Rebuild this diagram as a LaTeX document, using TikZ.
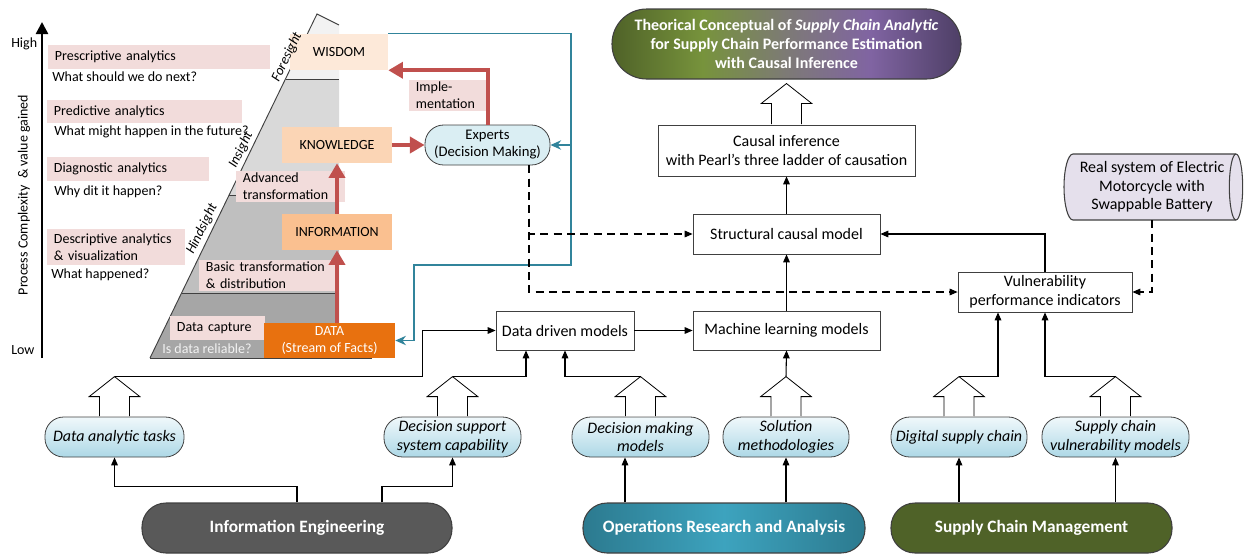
\documentclass[tikz,border=0pt]{standalone}
\usepackage{fontspec}
\setmainfont{Carlito}
\usepackage{tikz}
\usetikzlibrary{arrows.meta,calc,positioning}

\definecolor{pinkbg}{HTML}{F2DCDB}
\definecolor{wisdomfill}{HTML}{FDE9D9}
\definecolor{knowfill}{HTML}{FBD5B5}
\definecolor{infofill}{HTML}{FAC090}
\definecolor{datafill}{HTML}{E8710F}
\definecolor{redarr}{HTML}{C0504D}
\definecolor{tealarr}{HTML}{31849B}
\definecolor{expfill}{HTML}{DAEEF3}
\definecolor{band1}{HTML}{F2F2F2}
\definecolor{band2}{HTML}{D9D9D9}
\definecolor{band3}{HTML}{BFBFBF}
\definecolor{band4}{HTML}{A6A6A6}
\definecolor{iefill}{HTML}{595959}
\definecolor{oradark}{HTML}{2C7A8F}
\definecolor{oralight}{HTML}{3DA3BE}
\definecolor{scmfill}{HTML}{4F6228}
\definecolor{realfill}{HTML}{E5E0EC}
\definecolor{tgreen}{HTML}{4F6228}
\definecolor{tgreenl}{HTML}{77933C}
\definecolor{tgray}{HTML}{7D7A76}
\definecolor{tpurple}{HTML}{8064A2}
\definecolor{tpurpled}{HTML}{4E3F66}
\definecolor{italtop}{HTML}{F0F8FB}
\definecolor{italbot}{HTML}{ADD8E6}
\definecolor{edge}{HTML}{404040}

\pgfdeclarehorizontalshading{titleshade}{100bp}{color(0bp)=(tgreen); color(25bp)=(tgreen);
  color(38bp)=(tgreenl); color(50bp)=(tgray); color(62bp)=(tpurple); color(75bp)=(tpurpled);
  color(100bp)=(tpurpled)}

\newcommand{\pyrfont}{\fontsize{10.5}{12.75}\selectfont}
\newcommand{\expfont}{\fontsize{11}{12.75}\selectfont}
\newcommand{\boxfont}{\fontsize{12}{14}\selectfont}
\newcommand{\titlefont}{\fontsize{12}{14}\selectfont\bfseries}
\newcommand{\pillfont}{\fontsize{13}{15}\selectfont\bfseries}

% hollow block arrow from #1 (base) up to #2 (tip)
\newcommand{\blockarrow}[2]{%
  \draw[hollow] let \p1=(#1), \p2=(#2) in
    (\x1-11.25pt,\y1+0.4pt) -- (\x1-11.25pt,\y2-15pt) -- (\x1-19pt,\y2-15pt) -- (\x1,\y2)
    -- (\x1+19pt,\y2-15pt) -- (\x1+11.25pt,\y2-15pt) -- (\x1+11.25pt,\y1+0.4pt);}

\tikzset{
  lbl/.style={fill=pinkbg, anchor=west, inner xsep=5pt, inner ysep=0pt, align=left, font=\pyrfont},
  qtext/.style={anchor=west, inner sep=0pt, font=\pyrfont},
  pyrlevel/.style={inner sep=0pt, font=\pyrfont, align=center},
  sidetext/.style={font=\pyrfont\itshape, rotate=64, inner sep=0pt},
  pyrline/.style={draw=edge, line width=0.7pt},
  plainbox/.style={draw=edge, line width=0.6pt, fill=white, font=\boxfont, align=center, inner sep=0pt},
  taskpill/.style={draw=edge, line width=0.6pt, rounded corners=14pt, top color=italtop,
    bottom color=italbot, font=\boxfont\itshape, align=center, inner sep=0pt, minimum height=30pt},
  fieldpill/.style={draw=edge, line width=0.8pt, rounded corners=18pt, text=white, font=\pillfont,
    minimum height=37.5pt, inner sep=0pt},
  conn/.style={line width=0.8pt, -{Triangle[length=6pt,width=5pt]}},
  dashconn/.style={conn, dash pattern=on 6pt off 4pt},
  redconn/.style={draw=redarr, line width=3pt, -{Triangle[length=11pt,width=12pt]}},
  tealconn/.style={draw=tealarr, line width=1.1pt, -{Stealth[length=8pt,width=7pt]}},
  hollow/.style={draw=black, line width=0.6pt, fill=white, line join=miter},
}

\begin{document}
\begin{tikzpicture}[x=0.75pt, y=-0.75pt]
\useasboundingbox (0,0) rectangle (1244,554);

% axis
\draw[line width=1.9pt, -{Triangle[length=9pt,width=9pt]}] (42,358) -- (42,22);
\node[qtext] (high) at (11,44) {High};
\node[qtext] (low) at (11,350) {Low};
\node[font=\pyrfont, rotate=90, inner sep=0pt] (axlbl) at (24,195) {Process Complexity~ \& value gained};

% pyramid
\fill[band1] (317,14) -- (339,25) -- (339,79) -- (285.5,79) -- cycle;
\fill[band2] (285.5,79) -- (339,79) -- (339,195) -- (229.1,195) -- cycle;
\fill[band3] (229.1,195) -- (339,195) -- (339,293) -- (181.6,293) -- cycle;
\fill[band4] (181.6,293) -- (339,293) -- (339,358) -- (150,358) -- cycle;
\draw[pyrline] (150,358) -- (317,14) -- (339,25);
\draw[pyrline] (285.5,79) -- (339,79);
\draw[pyrline] (229.1,195) -- (339,195);
\draw[pyrline] (181.6,293) -- (339,293);
\draw[pyrline] (150,358) -- (372,358);

% analytics labels
\node[lbl, text width=156.5pt, minimum height=18pt] (presc) at (48,57) {Prescriptive analytics};
\node[qtext] (qpresc) at (52,77) {What should we do next?};
\node[lbl, text width=136pt, minimum height=17.25pt] (pred) at (47,111.5) {Predictive analytics};
\node[qtext] (qpred) at (54,132) {What might happen in the future?};
\node[lbl, text width=111.5pt, minimum height=18pt] (diag) at (47,169) {Diagnostic analytics};
\node[qtext] (qdiag) at (54,192) {Why dit it happen?};
\node[lbl, text width=93.5pt, minimum height=27pt] (desc) at (47,247) {Descriptive analytics\\\& visualization};
\node[qtext] (qdesc) at (51,275) {What happened?};

\node[lbl, text width=71.75pt, minimum height=23.25pt] (adv) at (236,186.5) {Advanced\\transformation};
\node[lbl, text width=93.5pt, minimum height=23.25pt] (basic) at (199,275.5) {Basic transformation\\\& distribution};
\node[lbl, text width=61.25pt, minimum height=18pt] (capt) at (170,328) {Data capture};
\node[qtext, text=band1] (reliab) at (162,349) {Is data reliable?};

% levels
\node[pyrlevel, fill=wisdomfill, minimum width=73.5pt, minimum height=27pt] (wis) at (339,52) {WISDOM};
\node[pyrlevel, fill=knowfill, minimum width=82.5pt, minimum height=27pt] (know) at (337,145) {KNOWLEDGE};
\node[pyrlevel, fill=infofill, minimum width=82.5pt, minimum height=27pt] (info) at (337,232) {INFORMATION};
\node[pyrlevel, fill=datafill, text=white, minimum width=98.25pt, minimum height=26.25pt] (data) at (329.5,340.5) {DATA\\(Stream of Facts)};

\node[sidetext] (fore) at (287,57) {Foresight};
\node[sidetext] (ins) at (241,150) {Insight};
\node[sidetext] (hind) at (202,229) {Hindsight};

\node[draw=edge, line width=0.6pt, fill=expfill, rounded corners=14pt, minimum width=93.75pt, minimum height=30pt,
  font=\expfont, align=center, inner sep=0pt] (exp) at (487.5,145) {Experts\\(Decision Making)};
\node[lbl, text width=47.75pt, minimum height=23.25pt] (imple) at (409,95.5) {Imple-\\mentation};

% causal chain
\node[draw=edge, line width=0.8pt, rounded corners=26pt, shading=titleshade, text=white, font=\titlefont,
  align=center, minimum width=261.75pt, minimum height=52.5pt, inner sep=0pt] (title) at (786.5,44)
  {Theorical Conceptual of \textit{Supply Chain Analytic}\\for Supply Chain Performance Estimation\\with Causal Inference};
\node[plainbox, minimum width=192.75pt, minimum height=38.25pt] (cau) at (786.5,150.5) {Causal inference\\with Pearl’s three ladder of causation};
\node[plainbox, minimum width=140.25pt, minimum height=30pt] (scm) at (786.5,234) {Structural causal model};
\node[plainbox, minimum width=140.25pt, minimum height=29.25pt] (ml) at (786.5,330.5) {Machine learning models};
\node[plainbox, minimum width=103.5pt, minimum height=29.25pt] (ddm) at (565,330.5) {Data driven models};
\node[plainbox, minimum width=130.5pt, minimum height=30pt] (vul) at (1045,292) {Vulnerability\\performance indicators};

% real system (cylinder on its side)
\draw[draw=edge, line width=0.8pt, fill=realfill] (1073,154) -- (1236,154)
  arc[start angle=90, end angle=-90, x radius=5pt, y radius=24.75pt] -- (1073,220)
  arc[start angle=270, end angle=90, x radius=6.75pt, y radius=24.75pt] -- cycle;
\draw[draw=edge, line width=0.8pt] (1236,154) arc[start angle=90, end angle=270, x radius=5pt, y radius=24.75pt];
\node[font=\boxfont, align=center, minimum width=120pt, minimum height=49.5pt, inner sep=0pt] (real) at (1152,187)
  {Real system of Electric\\Motorcycle with\\Swappable Battery};

% tasks
\node[taskpill, minimum width=104.25pt] (dat) at (114.5,437) {Data analytic tasks};
\node[taskpill, minimum width=102.75pt] (dss) at (452.5,437) {Decision support\\system capability};
\node[taskpill, minimum width=102.75pt] (dmm) at (640.5,437) {Decision making\\models};
\node[taskpill, minimum width=94.5pt] (sol) at (786,437) {Solution\\methodologies};
\node[taskpill, minimum width=102pt] (dsc) at (959,437) {Digital supply chain};
\node[taskpill, minimum width=110.25pt] (scv) at (1115.5,437) {Supply chain\\vulnerability models};

% fields
\node[fieldpill, fill=iefill, minimum width=232.5pt] (infoeng) at (297,528) {Information Engineering};
\node[fieldpill, left color=oradark, right color=oradark, middle color=oralight, minimum width=211.5pt] (opres) at (724,528) {Operations Research and Analysis};
\node[fieldpill, fill=scmfill, minimum width=210.75pt] (supchain) at (1031.5,528) {Supply Chain Management};

% red flow
\draw[redconn] (data.north -| info.south) -- (info.south);
\draw[redconn] (info.north) -- (know.south);
\draw[redconn] (know.east) -- (exp.west);
\draw[redconn] (exp.north) |- (wis.south east);

% teal feedback
\coordinate (tA) at (571,265);
\coordinate (tB) at (414,265);
\draw[tealconn] (wis.north east) -| (tA) -- (tB) |- (data.east);
\draw[tealconn] (exp.east -| tA) -- (exp.east);

% dashed links
\coordinate (dsplit) at ($(exp.south)+(41.5,0)$);
\draw[dashconn] (dsplit) |- (scm.west);
\draw[dashconn] (dsplit) |- (vul.west);
\draw[dashconn] (real.south) |- (vul.east);

% models
\draw[conn] (ddm.east) -- (ml.west);
\draw[conn] (ml.north) -- (scm.south);
\draw[conn] (scm.north) -- (cau.south);
\draw[conn] (vul.north) |- (scm.east);
\coordinate (tiptitle) at ($(title.south)+(0,4)$);
\blockarrow{cau.north}{tiptitle}

% block arrows from tasks
\foreach \t in {dat,dss,dmm,sol,dsc,scv}{
  \coordinate (tip\t) at ($(\t.north)+(0,-40)$);
  \blockarrow{\t.north}{tip\t}
}
\draw[conn] (tipdat) -| ($(ddm.west)+(-73,0)$) -- (ddm.west);
\draw[conn] (tipdss) -| ($(ddm.south)+(-39,0)$);
\draw[conn] (tipdmm) -| (ddm.south);
\draw[conn] (tipsol) -- (ml.south);
\draw[conn] (tipdsc) -| ($(vul.south)+(-47,0)$);
\draw[conn] (tipscv) -| (vul.south);

% fields to tasks
\draw[conn] (infoeng.north) -- ++(0,-16) -| (dat.south);
\draw[conn] ($(infoeng.north)+(85,0)$) -- ++(0,-16) -| (dss.south);
\coordinate (dmmin) at ($(dmm.south)+(-15.5,0)$);
\draw[conn] (opres.north -| dmmin) -- (dmmin);
\draw[conn] (opres.north -| sol.south) -- (sol.south);
\draw[conn] (supchain.north -| dsc.south) -- (dsc.south);
\draw[conn] (supchain.north -| scv.south) -- (scv.south);
\end{tikzpicture}
\end{document}
